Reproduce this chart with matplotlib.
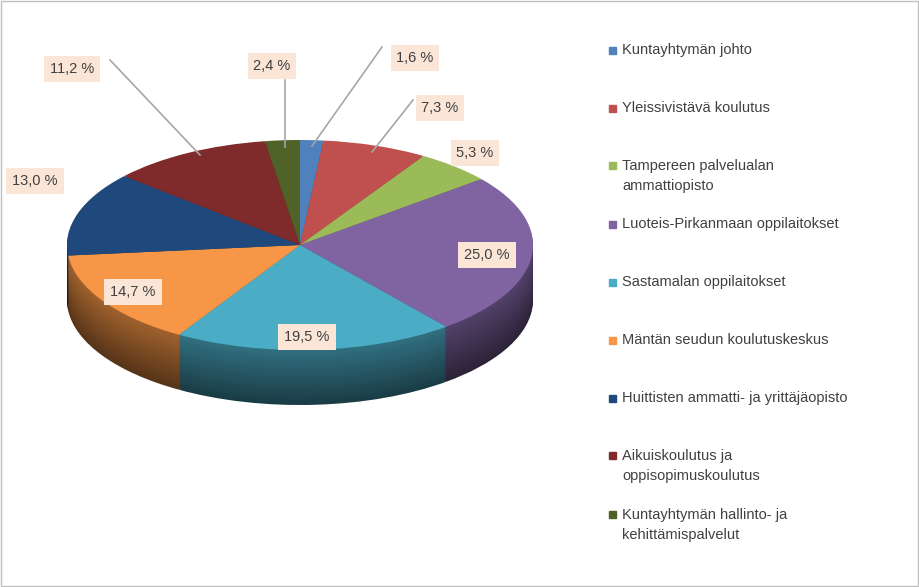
import matplotlib
matplotlib.use("Agg")
import matplotlib.pyplot as plt
import matplotlib.colors as mc
import numpy as np

categories = ["Kuntayhtymän johto", "Yleissivistävä koulutus",
              "Tampereen palvelualan\nammattiopisto", "Luoteis-Pirkanmaan oppilaitokset",
              "Sastamalan oppilaitokset", "Mäntän seudun koulutuskeskus",
              "Huittisten ammatti- ja yrittäjäopisto", "Aikuiskoulutus ja\noppisopimuskoulutus",
              "Kuntayhtymän hallinto- ja\nkehittämispalvelut"]
values = [1.6, 7.3, 5.3, 25.0, 19.5, 14.7, 13.0, 11.2, 2.4]
labels = ["1,6 %", "7,3 %", "5,3 %", "25,0 %", "19,5 %", "14,7 %", "13,0 %", "11,2 %", "2,4 %"]
colors = ["#4F81BD", "#C0504D", "#9BBB59", "#8064A2", "#4BACC6",
          "#F79646", "#1F497D", "#7F2B2B", "#4F6228"]

plt.rcParams["font.family"] = "Liberation Sans"
W, H = 919, 587
fig = plt.figure(figsize=(W/100, H/100), dpi=100)
fig.patch.set_facecolor("white")
ax = fig.add_axes([0, 0, 1, 1])
cx, cy, rx, ry = 300, 245, 233, 105

def dark(c, f):
    r, g, b = mc.to_rgb(c)
    return (r*f, g*f, b*f)

depth = 55/ry
n = 40
for i in range(n, 0, -1):
    off = depth*i/n
    f = 0.35 + 0.3*(1 - i/n)
    ax.pie(values, colors=[dark(c, f) for c in colors], startangle=90,
           counterclock=False, center=(0, -off), radius=1,
           wedgeprops=dict(linewidth=0), frame=True)
ax.pie(values, colors=colors, startangle=90, counterclock=False,
       center=(0, 0), radius=1, wedgeprops=dict(linewidth=0), frame=True)
ax.set_aspect("auto")
ax.set_xlim(-cx/rx, (W-cx)/rx)
ax.set_ylim(-(H-cy)/ry, cy/ry)
ax.axis("off")

def p(px, py):
    return ((px-cx)/rx, (cy-py)/ry)

label_pos = [(415, 58), (440, 108), (475, 153), (487, 255), (307, 337),
             (133, 292), (35, 181), (72, 69), (272, 66)]
leaders = {0: ((382, 47), (312, 146)), 1: ((413, 100), (372, 152)),
           7: ((110, 60), (200, 155)), 8: ((285, 80), (285, 147))}
for i, (a, b) in leaders.items():
    x0, y0 = p(*a); x1, y1 = p(*b)
    ax.plot([x0, x1], [y0, y1], color="#A6A6A6", lw=1.2)
for lab, (px, py) in zip(labels, label_pos):
    x, y = p(px, py)
    ax.text(x, y, lab, ha="center", va="center", fontsize=10.5, color="#404040",
            bbox=dict(boxstyle="square,pad=0.4", fc="#FBE5D6", ec="none"))

leg_y = [50, 108, 176, 224, 282, 340, 398, 466, 525]
for cat, c, ly in zip(categories, colors, leg_y):
    nl = cat.count("\n")
    top = ly - 11*nl
    fig.patches.append(plt.Rectangle(((609)/W, 1-(top+4)/H), 7/W, 7/H,
                                     transform=fig.transFigure, color=c))
    fig.text(622/W, 1-ly/H, cat, ha="left", va="center", fontsize=10.5,
             color="#404040", linespacing=1.5)

fig.patches.append(plt.Rectangle((0.001, 0.001), 0.998, 0.997, transform=fig.transFigure,
                                 fill=False, ec="#BFBFBF", lw=1))
fig.savefig("out.png", dpi=100)
